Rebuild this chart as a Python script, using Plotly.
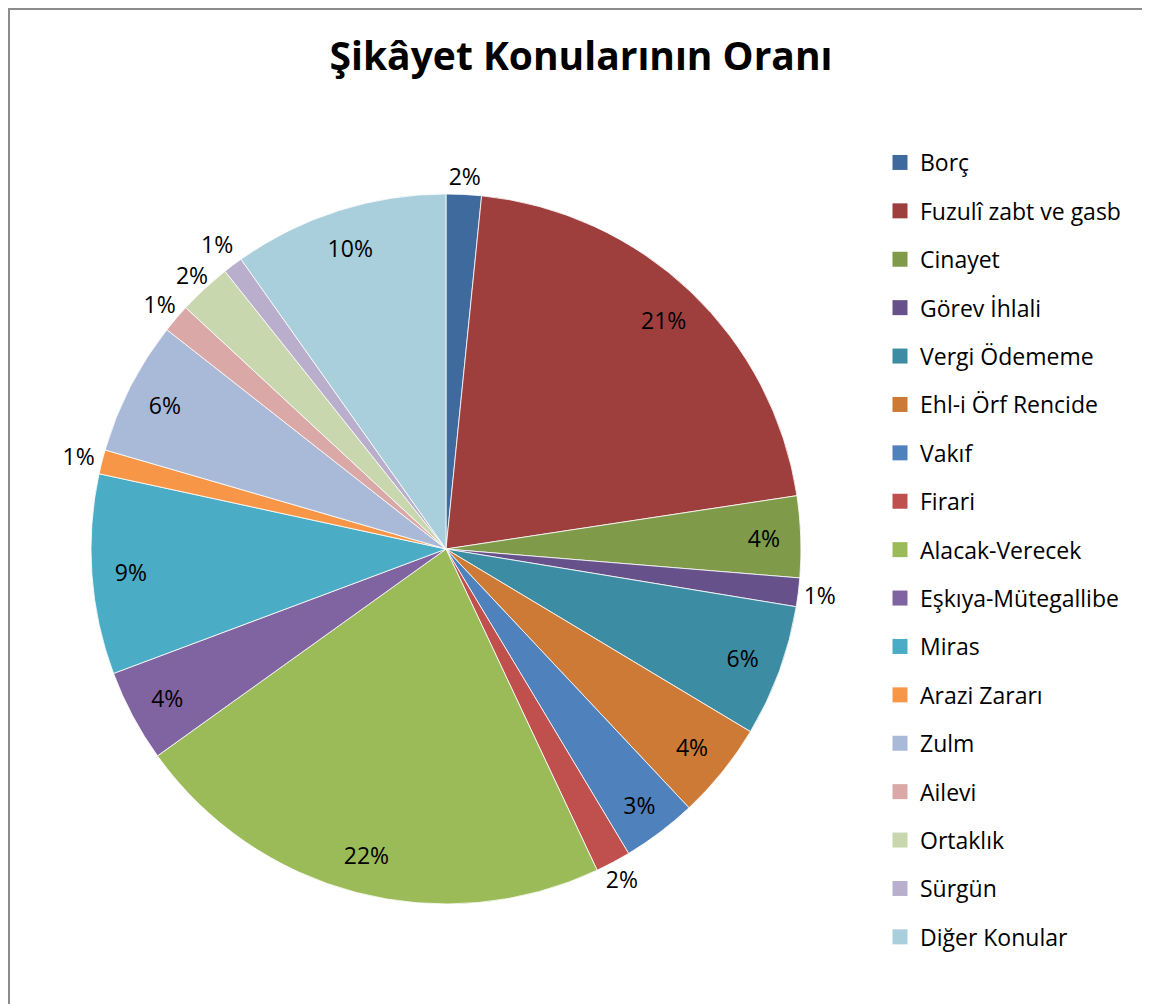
import plotly.graph_objects as go

# complaint topics and their share (in percent)
topics = [
    "Borç", "Fuzulî zabt ve gasb", "Cinayet", "Görev İhlali", "Vergi Ödememe",
    "Ehl-i Örf Rencide", "Vakıf", "Firari", "Alacak-Verecek", "Eşkıya-Mütegallibe",
    "Miras", "Arazi Zararı", "Zulm", "Ailevi", "Ortaklık", "Sürgün", "Diğer Konular",
]
shares = [1.6, 21.0, 3.7, 1.3, 6.0, 4.4, 3.4, 1.6, 22.1, 4.2, 9.1, 1.1, 6.1, 1.3, 2.4, 0.9, 9.8]
colors = [
    "#3F6A9E", "#9E3F3D", "#7F9A48", "#67518A", "#3C8DA3", "#CC7A35",
    "#4F81BD", "#C0504D", "#9BBB59", "#8064A2", "#4BACC6", "#F79646",
    "#A9B9D8", "#D9A8A7", "#C8D7AE", "#B9AFCC", "#A9CFDC",
]
# small slices get their label outside the pie, like Excel's best fit
small = [s < 3 for s in shares]

FONT = "Open Sans"
W, H = 1150, 1004
OFF = 8  # page body margin


def px(x):
    return (x - OFF) / W


def py(y):
    return 1 - (y - OFF) / H


def dom(cx, cy, r):
    return dict(x=[px(cx - r), px(cx + r)], y=[py(cy + r), py(cy - r)])


cx, cy, r = 446, 549, 355
r_out = 392
clear = ["rgba(0,0,0,0)"] * len(topics)
pct = "%{percent:.0%}"

fig = go.Figure()

# the coloured pie
fig.add_trace(go.Pie(
    labels=topics, values=shares, sort=False, direction="clockwise", rotation=0,
    marker=dict(colors=colors, line=dict(color="white", width=0.8)),
    textinfo="none", showlegend=False, domain=dom(cx, cy, r),
))

# transparent ring near the rim, carries the labels of the big slices
fig.add_trace(go.Pie(
    labels=topics, values=shares, sort=False, direction="clockwise", rotation=0,
    hole=0.78, marker=dict(colors=clear, line=dict(width=0)),
    texttemplate=["" if s else pct for s in small],
    textposition="inside", insidetextorientation="horizontal",
    textfont=dict(family=FONT, size=23, color="black"),
    hoverinfo="skip", showlegend=False, domain=dom(cx, cy, r),
))

# transparent ring just outside the pie, carries the labels of the small slices
fig.add_trace(go.Pie(
    labels=topics, values=shares, sort=False, direction="clockwise", rotation=0,
    hole=r / r_out, marker=dict(colors=clear, line=dict(width=0)),
    texttemplate=[pct if s else "" for s in small],
    textposition="inside", insidetextorientation="horizontal",
    textfont=dict(family=FONT, size=23, color="black"),
    hoverinfo="skip", showlegend=False, domain=dom(cx, cy, r_out),
))

# legend entries (separate traces so the spacing can be set)
for i, (name, col) in enumerate(zip(topics, colors)):
    fig.add_trace(go.Scatter(
        x=[None], y=[None], mode="markers", name=name,
        marker=dict(symbol="square", size=15, color=col),
        legendgroup=f"g{i}", showlegend=True,
    ))

fig.update_layout(
    width=W,
    height=H,
    margin=dict(l=0, r=0, t=0, b=0),
    paper_bgcolor="white",
    plot_bgcolor="white",
    uniformtext=dict(minsize=23, mode="show"),
    title=dict(
        text="<b>Şikâyet Konularının Oranı</b>",
        font=dict(family=FONT, size=39, color="black"),
        x=px(581), xanchor="center",
        y=py(56), yanchor="middle",
    ),
    xaxis=dict(visible=False),
    yaxis=dict(visible=False),
    legend=dict(
        x=px(880), xanchor="left",
        y=py(141), yanchor="top",
        font=dict(family=FONT, size=23, color="black"),
        tracegroupgap=15.5,
        bgcolor="rgba(0,0,0,0)",
    ),
    shapes=[dict(
        type="rect", xref="paper", yref="paper",
        x0=1 / W, x1=px(1148), y0=-0.01, y1=1 - 1 / H,
        line=dict(color="#8C8C8C", width=2), layer="below",
    )],
)

fig.write_html("out.html")
